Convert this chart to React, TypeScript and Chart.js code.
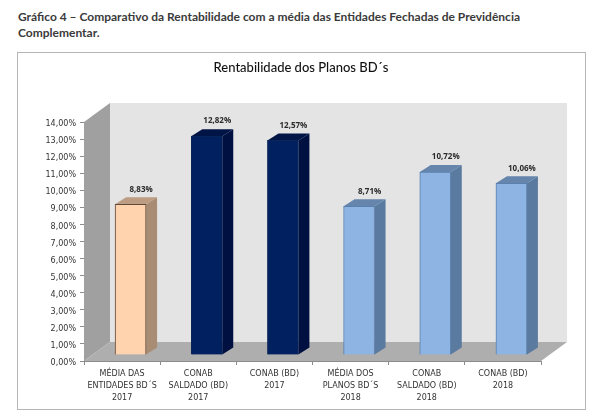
import React, { useEffect, useRef } from "react";
import { Chart, registerables } from "chart.js";

Chart.register(...registerables);

const heading = "Gráfico 4 – Comparativo da Rentabilidade com a média das Entidades Fechadas de Previdência Complementar.";
const chartTitle = "Rentabilidade dos Planos BD´s";
const categories = [
  ["MÉDIA DAS", "ENTIDADES BD´S", "2017"],
  ["CONAB", "SALDADO (BD)", "2017"],
  ["CONAB (BD)", "2017"],
  ["MÉDIA DOS", "PLANOS BD´S", "2018"],
  ["CONAB", "SALDADO (BD)", "2018"],
  ["CONAB (BD)", "2018"],
];
const values = [8.83, 12.82, 12.57, 8.71, 10.72, 10.06];
const frontColors = ["#FFD3AE", "#002060", "#002060", "#8DB4E2", "#8DB4E2", "#8DB4E2"];
const edgeColors = ["#5E4A3A", "#0A2558", "#0A2558", "#5B80AE", "#5B80AE", "#5B80AE"];
const sideColors = ["#A98C74", "#001040", "#001040", "#5B7A9F", "#5B7A9F", "#5B7A9F"];
const topColors = ["#BC9C82", "#001545", "#001545", "#6585AD", "#6585AD", "#6585AD"];

const fmt = (v: number) => v.toFixed(2).replace(".", ",") + "%";

const WALL = { dx: 26, dy: -19 };
const SHIFT = { dx: 8.5, dy: -6 };
const BAR = { dx: 11, dy: -7 };

function poly(ctx: CanvasRenderingContext2D, pts: number[][], fill: string) {
  ctx.beginPath();
  pts.forEach((p, i) => (i ? ctx.lineTo(p[0], p[1]) : ctx.moveTo(p[0], p[1])));
  ctx.closePath();
  ctx.fillStyle = fill;
  ctx.fill();
}

const threeD = {
  id: "threeD",
  beforeDatasetsDraw(chart: any) {
    const { ctx, chartArea: a } = chart;
    const { left: l, right: r, top: t, bottom: b } = a;
    const { dx, dy } = WALL;
    ctx.save();
    poly(ctx, [[l + dx, t + dy], [r + dx, t + dy], [r + dx, b + dy], [l + dx, b + dy]], "#E4E4E4");
    poly(ctx, [[l, t], [l + dx, t + dy], [l + dx, b + dy], [l, b]], "#A0A0A0");
    poly(ctx, [[l, b], [l + dx, b + dy], [r + dx, b + dy], [r, b]], "#AEAEAE");
    const meta = chart.getDatasetMeta(0);
    ctx.translate(SHIFT.dx, SHIFT.dy);
    meta.data.forEach((bar: any, i: number) => {
      const hw = bar.width / 2;
      const x0 = bar.x - hw;
      const x1 = bar.x + hw;
      const y0 = bar.y;
      const y1 = bar.base;
      poly(ctx, [[x1, y0], [x1 + BAR.dx, y0 + BAR.dy], [x1 + BAR.dx, y1 + BAR.dy], [x1, y1]], sideColors[i]);
      poly(ctx, [[x0, y0], [x0 + BAR.dx, y0 + BAR.dy], [x1 + BAR.dx, y0 + BAR.dy], [x1, y0]], topColors[i]);
    });
  },
  afterDatasetsDraw(chart: any) {
    const { ctx } = chart;
    const meta = chart.getDatasetMeta(0);
    ctx.restore();
    ctx.save();
    ctx.font = "700 8px 'Open Sans'";
    ctx.fillStyle = "#2A2A2A";
    ctx.textAlign = "center";
    ctx.textBaseline = "middle";
    meta.data.forEach((bar: any, i: number) => {
      ctx.fillText(fmt(values[i]), bar.x + SHIFT.dx + 10.5, bar.y + SHIFT.dy + BAR.dy - 8);
    });
    ctx.font = "500 13px Lato";
    ctx.fillStyle = "#111111";
    ctx.fillText(chartTitle, chart.width / 2 + 1, 67.5);
    ctx.restore();
  },
};

export default function App() {
  const ref = useRef<HTMLCanvasElement>(null);
  useEffect(() => {
    const chart = new Chart(ref.current!, {
      type: "bar",
      data: {
        labels: categories,
        datasets: [
          {
            data: values,
            backgroundColor: frontColors,
            borderColor: edgeColors,
            borderWidth: 1,
            barThickness: 31,
          },
        ],
      },
      plugins: [threeD],
      options: {
        animation: false,
        responsive: false,
        layout: { padding: { right: 59, top: 122 } },
        plugins: {
          legend: { display: false },
          tooltip: { enabled: false },
          title: { display: false },
        },
        scales: {
          x: {
            afterFit: (s: any) => { s.height = 56; },
            border: { color: "#8C8C8C" },
            grid: { drawOnChartArea: false, color: "#8C8C8C", tickLength: 4, offset: true },
            ticks: {
              color: "#333333",
              maxRotation: 0,
              autoSkip: false,
              padding: 3,
              font: { family: "'DejaVu Sans'", size: 8, lineHeight: 1.5 },
            },
          },
          y: {
            min: 0,
            max: 14,
            afterFit: (s: any) => { s.width = 84; },
            border: { color: "#8C8C8C" },
            grid: { drawOnChartArea: false, color: "#8C8C8C", tickLength: 4 },
            ticks: {
              stepSize: 1,
              color: "#333333",
              padding: 4,
              callback: (v: any) => ["", fmt(Number(v))],
              font: { family: "'DejaVu Sans'", size: 8, lineHeight: 0.5 },
            },
          },
        },
      },
    } as any);
    return () => chart.destroy();
  }, []);
  return (
    <div style={{ position: "absolute", left: 0, top: 0, width: 600, height: 417, background: "#fff", overflow: "hidden" }}>
      <div style={{ position: "absolute", left: 18, top: 9, width: 530, fontFamily: "Lato", fontWeight: 700, fontSize: 12, lineHeight: "16px", color: "#3A3A3A" }}>
        {heading}
      </div>
      <div style={{ position: "absolute", left: 17, top: 52, width: 567, height: 356, border: "1px solid #B5B5B5", boxSizing: "content-box" }} />
      <canvas ref={ref} width={600} height={417} style={{ position: "absolute", left: 0, top: 0 }} />
    </div>
  );
}
